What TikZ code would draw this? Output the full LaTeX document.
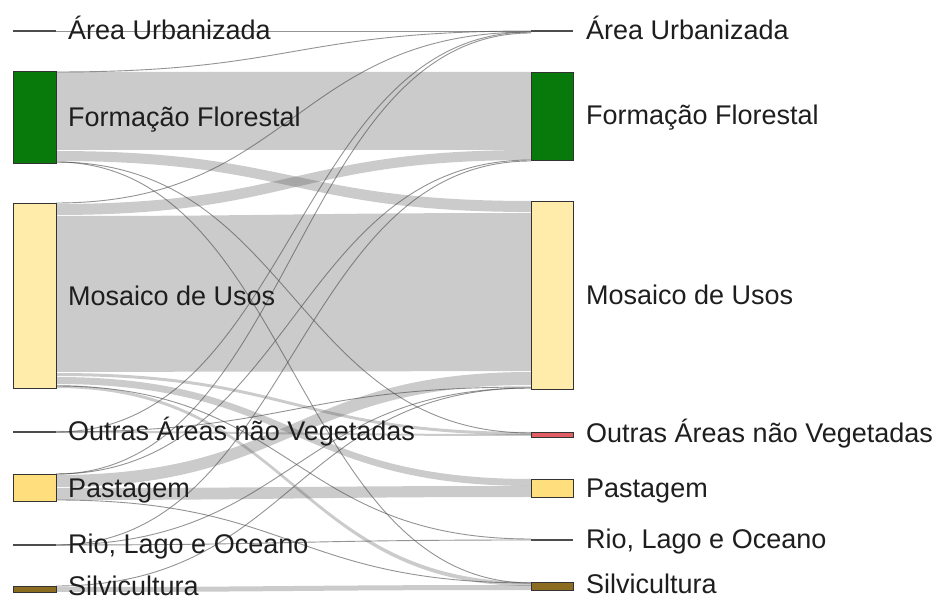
\documentclass[tikz,border=0pt]{standalone}
\usepackage{fontspec}
\setmainfont{Liberation Sans}
\definecolor{ffgreen}{RGB}{8,122,12}
\definecolor{mosaico}{RGB}{255,236,170}
\definecolor{pasto}{RGB}{255,222,125}
\definecolor{silvi}{RGB}{140,108,32}
\definecolor{outras}{RGB}{225,95,100}
\definecolor{txt}{RGB}{30,30,30}
\definecolor{bandgray}{RGB}{85,85,85}
\tikzset{
  band/.style={fill=bandgray, fill opacity=0.3, draw=none},
  thinlink/.style={draw=black!70, draw opacity=0.6, line width=0.9pt},
  nodebox/.style={draw=black!80, line width=1.1pt, inner sep=0pt, anchor=north west, rectangle},
  nodeline/.style={draw=black!70, line width=2pt},
  lbl/.style={anchor=base west, text=txt, font=\fontsize{27}{31}\selectfont, inner sep=0pt},
}
% band: left top, left bottom, right top, right bottom
\newcommand{\skband}[4]{\fill[band] (56,#1) .. controls (293.5,#1) and (293.5,#3) .. (531,#3) -- (531,#4) .. controls (293.5,#4) and (293.5,#2) .. (56,#2) -- cycle;}
\newcommand{\skline}[2]{\draw[thinlink] (56,#1) .. controls (293.5,#1) and (293.5,#2) .. (531,#2);}
\begin{document}
\begin{tikzpicture}[x=1pt,y=-1pt]
\useasboundingbox (0,0) rectangle (938,601);
\fill[white] (0,0) rectangle (938,601);

% ---- links (bands)
\skband{72}{150}{72}{150}    % FF -> FF
\skband{151}{161}{201}{212}  % FF -> Mosaico
\skband{204}{215}{150}{160}  % Mosaico -> FF
\skband{216}{372}{213}{371}  % Mosaico -> Mosaico
\skband{373}{376}{432}{435}  % Mosaico -> Outras
\skband{377}{384}{479}{486}  % Mosaico -> Pastagem
\skband{385}{388}{582}{586}  % Mosaico -> Silvicultura
\skband{475}{487}{372}{385}  % Pastagem -> Mosaico
\skband{488}{500}{486}{497}  % Pastagem -> Pastagem
\skband{587}{592}{585}{590}  % Silvicultura -> Silvicultura
\skband{431}{433}{434}{436}  % Outras -> Outras

% ---- links (thin)
\skline{31}{31}    % AU -> AU
\skline{72}{31}    % FF -> AU
\skline{203}{32}   % Mosaico -> AU
\skline{432}{32}   % Outras -> AU
\skline{474}{33}   % Pastagem -> AU
\skline{474}{160}  % Pastagem -> FF
\skline{545}{161}  % Rio -> FF
\skline{162}{433}  % FF -> Outras
\skline{162}{583}  % FF -> Silvicultura
\skline{386}{539}  % Mosaico -> Rio
\skline{545}{388}  % Rio -> Mosaico
\skline{586}{388}  % Silvicultura -> Mosaico
\skline{432}{387}  % Outras -> Mosaico
\skline{500}{583}  % Pastagem -> Silvicultura
\skline{545}{540}  % Rio -> Rio

% ---- left nodes
\coordinate (LAU) at (13,31);
\draw[nodeline] (LAU) -- ++(43,0);
\node[nodebox, fill=ffgreen, minimum width=43pt, minimum height=92pt] (LFF) at (13,71) {};
\node[nodebox, fill=mosaico, minimum width=43pt, minimum height=185pt] (LMU) at (13,203) {};
\coordinate (LOA) at (13,432);
\draw[nodeline] (LOA) -- ++(43,0);
\node[nodebox, fill=pasto, minimum width=43pt, minimum height=27pt] (LPA) at (13,474) {};
\coordinate (LRL) at (13,545);
\draw[nodeline] (LRL) -- ++(43,0);
\node[nodebox, fill=silvi, minimum width=43pt, minimum height=6pt] (LSI) at (13,586) {};

% ---- right nodes
\coordinate (RAU) at (531,31);
\draw[nodeline] (RAU) -- ++(42,0);
\node[nodebox, fill=ffgreen, minimum width=42pt, minimum height=88pt] (RFF) at (531,72) {};
\node[nodebox, fill=mosaico, minimum width=42pt, minimum height=188pt] (RMU) at (531,201) {};
\node[nodebox, fill=outras, minimum width=42pt, minimum height=5pt] (ROA) at (531,432) {};
\node[nodebox, fill=pasto, minimum width=42pt, minimum height=18pt] (RPA) at (531,479) {};
\coordinate (RRL) at (531,540);
\draw[nodeline] (RRL) -- ++(42,0);
\node[nodebox, fill=silvi, minimum width=42pt, minimum height=8pt] (RSI) at (531,582) {};

% ---- labels
\node[lbl] (tLAU) at (68,40)  {Área Urbanizada};
\node[lbl] (tLFF) at (68,127) {Formação Florestal};
\node[lbl] (tLMU) at (68,306) {Mosaico de Usos};
\node[lbl] (tLOA) at (68,441) {Outras Áreas não Vegetadas};
\node[lbl] (tLPA) at (68,498) {Pastagem};
\node[lbl] (tLRL) at (68,554) {Rio, Lago e Oceano};
\node[lbl] (tLSI) at (68,596) {Silvicultura};

\node[lbl] (tRAU) at (586,40)  {Área Urbanizada};
\node[lbl] (tRFF) at (586,125) {Formação Florestal};
\node[lbl] (tRMU) at (586,305) {Mosaico de Usos};
\node[lbl] (tROA) at (586,443) {Outras Áreas não Vegetadas};
\node[lbl] (tRPA) at (586,498) {Pastagem};
\node[lbl] (tRRL) at (586,549) {Rio, Lago e Oceano};
\node[lbl] (tRSI) at (586,594) {Silvicultura};
\end{tikzpicture}
\end{document}
